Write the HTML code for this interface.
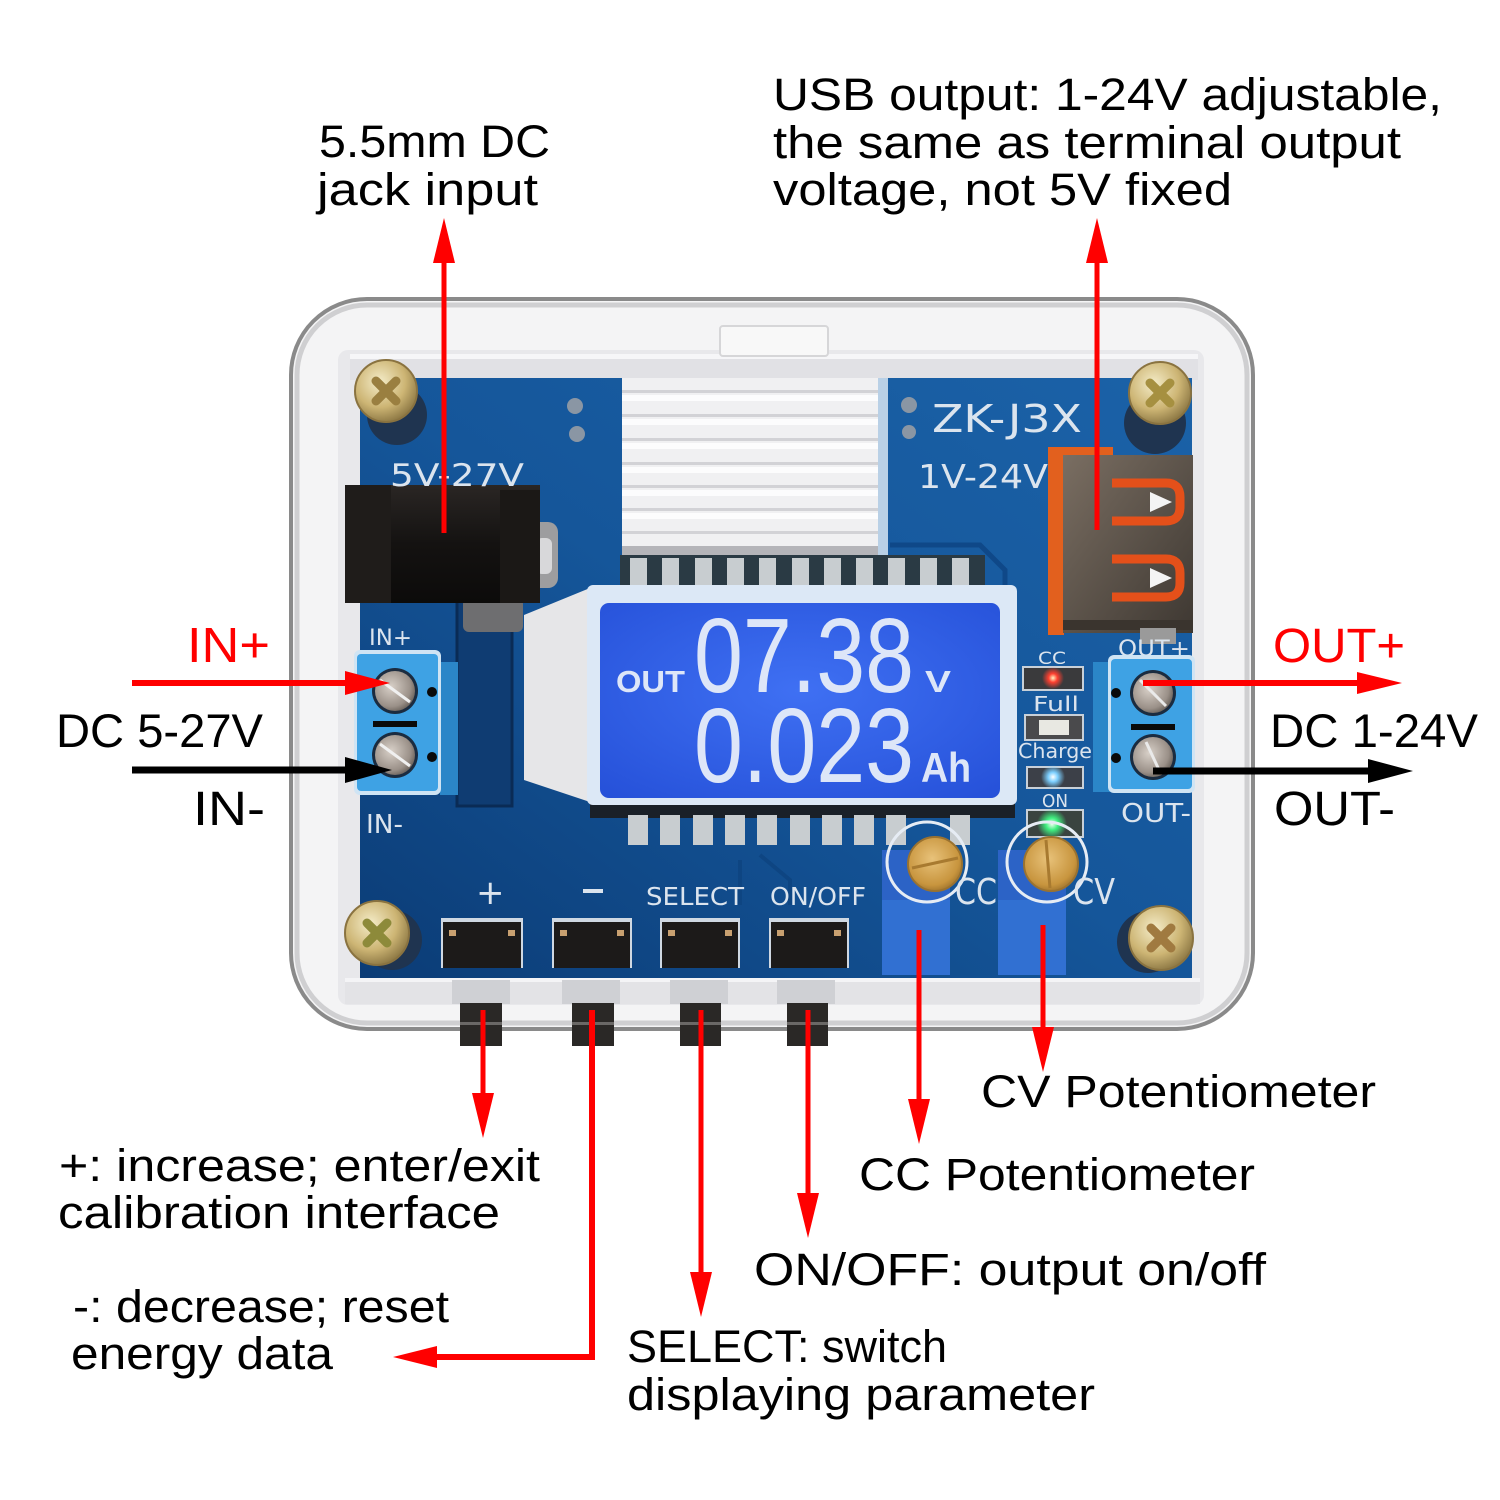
<!DOCTYPE html>
<html><head><meta charset="utf-8"><style>
html,body{margin:0;padding:0;background:#fff;}
svg{display:block;}
text{font-family:"Liberation Sans",sans-serif;}
.silk{font-family:"DejaVu Sans","Liberation Sans",sans-serif;fill:#dbe4ee;}
.ann{font-size:45px;fill:#000;}
</style></head><body>
<svg width="1500" height="1500" viewBox="0 0 1500 1500" xmlns="http://www.w3.org/2000/svg">
<defs>
 <linearGradient id="pcb" x1="1" y1="0" x2="0" y2="1">
  <stop offset="0" stop-color="#1b62a8"/>
  <stop offset="0.5" stop-color="#15569a"/>
  <stop offset="1" stop-color="#0b3c76"/>
 </linearGradient>
 <radialGradient id="lcd" cx="0.5" cy="0.45" r="0.75">
  <stop offset="0" stop-color="#3f70f3"/>
  <stop offset="1" stop-color="#2550d8"/>
 </radialGradient>
 <radialGradient id="brass" cx="0.4" cy="0.35" r="0.75">
  <stop offset="0" stop-color="#f4ecc8"/>
  <stop offset="0.55" stop-color="#cdb574"/>
  <stop offset="1" stop-color="#7a6636"/>
 </radialGradient>
 <radialGradient id="gold" cx="0.45" cy="0.4" r="0.7">
  <stop offset="0" stop-color="#e8c27a"/>
  <stop offset="0.7" stop-color="#c8953e"/>
  <stop offset="1" stop-color="#8a6224"/>
 </radialGradient>
 <radialGradient id="scr" cx="0.4" cy="0.4" r="0.7">
  <stop offset="0" stop-color="#d8d0c8"/>
  <stop offset="0.7" stop-color="#9a9088"/>
  <stop offset="1" stop-color="#5a524c"/>
 </radialGradient>
 <linearGradient id="jack" x1="0" y1="0" x2="0" y2="1">
  <stop offset="0" stop-color="#2a2624"/>
  <stop offset="0.5" stop-color="#141211"/>
  <stop offset="1" stop-color="#0c0b0a"/>
 </linearGradient>
 <linearGradient id="usb" x1="0" y1="0" x2="1" y2="1">
  <stop offset="0" stop-color="#7a6e62"/>
  <stop offset="0.5" stop-color="#5c534a"/>
  <stop offset="1" stop-color="#3e3832"/>
 </linearGradient>
 <radialGradient id="glowR"><stop offset="0" stop-color="#fff4c0"/><stop offset="0.4" stop-color="#ff4030"/><stop offset="1" stop-color="#ff4030" stop-opacity="0"/></radialGradient>
 <radialGradient id="glowB"><stop offset="0" stop-color="#ffffff"/><stop offset="0.4" stop-color="#7ccfff"/><stop offset="1" stop-color="#7ccfff" stop-opacity="0"/></radialGradient>
 <radialGradient id="glowG"><stop offset="0" stop-color="#f0fff0"/><stop offset="0.4" stop-color="#40f080"/><stop offset="1" stop-color="#40f080" stop-opacity="0"/></radialGradient>
</defs>

<!-- ===== CASE ===== -->
<rect x="291" y="299" width="962" height="730" rx="76" fill="#f4f4f5" stroke="#8a8a8a" stroke-width="4"/>
<rect x="297" y="305" width="950" height="718" rx="70" fill="none" stroke="#cfcfd1" stroke-width="5"/>
<rect x="338" y="350" width="866" height="655" rx="10" fill="#e8e8eb"/>
<rect x="350" y="354" width="848" height="26" fill="#e1e1e5"/>
<rect x="350" y="354" width="848" height="5" fill="#f6f6f8"/>
<rect x="720" y="326" width="108" height="30" rx="3" fill="#f8f8f8" stroke="#d6d6d8" stroke-width="2"/>

<!-- ===== PCB ===== -->
<rect x="360" y="378" width="832" height="600" fill="url(#pcb)"/>
<rect x="457" y="600" width="55" height="206" fill="#0f3c72" stroke="#0a2b55" stroke-width="3"/>
<path d="M890 545 L980 545 L1005 570 L1005 600" fill="none" stroke="#0f4888" stroke-width="5"/>
<path d="M740 860 L740 905 M760 855 L790 880 L790 905" fill="none" stroke="#0e4582" stroke-width="4"/>

<!-- heatsink -->
<rect x="622" y="378" width="258" height="178" fill="#f0f0f2"/>
<g fill="#d2d2d6">
 <rect x="622" y="390" width="258" height="3"/><rect x="622" y="414" width="258" height="3"/>
 <rect x="622" y="438" width="258" height="3"/><rect x="622" y="462" width="258" height="3"/>
 <rect x="622" y="485" width="258" height="3"/><rect x="622" y="508" width="258" height="3"/>
 <rect x="622" y="531" width="258" height="3"/>
</g>
<g fill="#fcfcfd">
 <rect x="622" y="395" width="258" height="6"/><rect x="622" y="419" width="258" height="6"/>
 <rect x="622" y="443" width="258" height="6"/><rect x="622" y="467" width="258" height="6"/>
 <rect x="622" y="490" width="258" height="6"/><rect x="622" y="513" width="258" height="6"/>
</g>
<rect x="622" y="546" width="258" height="10" fill="#b4b4b9"/>
<rect x="878" y="378" width="10" height="178" fill="#b9d0e6"/>

<!-- silkscreen top -->
<text class="silk" x="932" y="432" font-size="38" textLength="150" lengthAdjust="spacingAndGlyphs">ZK-J3X</text>
<text class="silk" x="918" y="488" font-size="33" textLength="130" lengthAdjust="spacingAndGlyphs">1V-24V</text>
<circle cx="575" cy="406" r="8" fill="#8a96a4"/><circle cx="577" cy="434" r="8" fill="#8a96a4"/>
<circle cx="909" cy="405" r="8" fill="#8a96a4"/><circle cx="909" cy="432" r="7" fill="#8a96a4"/>

<!-- DC jack -->
<rect x="528" y="522" width="30" height="66" rx="10" fill="#9d9d9f"/>
<rect x="536" y="538" width="16" height="36" rx="6" fill="#d8d8da"/>
<rect x="463" y="598" width="60" height="34" rx="6" fill="#6e6e70"/>
<rect x="345" y="485" width="195" height="118" fill="url(#jack)"/>
<rect x="345" y="485" width="46" height="118" fill="#1f1c1a"/>
<rect x="500" y="490" width="40" height="113" fill="#1b1816"/>
<text class="silk" x="390" y="486" font-size="31" textLength="134" lengthAdjust="spacingAndGlyphs">5V-27V</text>

<!-- screws -->
<g>
 <circle cx="397" cy="415" r="30" fill="#1f3450"/>
 <circle cx="386" cy="391" r="31" fill="url(#brass)" stroke="#8a7340" stroke-width="2"/>
 <path d="M376 381 L396 401 M396 381 L376 401" stroke="#9a7f40" stroke-width="9" stroke-linecap="round"/>
</g>
<g>
 <circle cx="1155" cy="423" r="31" fill="#1f3450"/>
 <circle cx="1160" cy="393" r="31" fill="url(#brass)" stroke="#8a7340" stroke-width="2"/>
 <path d="M1150 383 L1170 403 M1170 383 L1150 403" stroke="#a69040" stroke-width="9" stroke-linecap="round"/>
</g>
<g>
 <circle cx="392" cy="940" r="30" fill="#1f3450"/>
 <circle cx="377" cy="933" r="32" fill="url(#brass)" stroke="#8a7340" stroke-width="2"/>
 <path d="M367 923 L387 943 M387 923 L367 943" stroke="#8d8a3a" stroke-width="9" stroke-linecap="round"/>
</g>
<g>
 <circle cx="1148" cy="942" r="31" fill="#1f3450"/>
 <circle cx="1161" cy="938" r="32" fill="url(#brass)" stroke="#8a7340" stroke-width="2"/>
 <path d="M1151 928 L1171 948 M1171 928 L1151 948" stroke="#a07a40" stroke-width="9" stroke-linecap="round"/>
</g>

<!-- USB port -->
<rect x="1048" y="447" width="16" height="188" fill="#e2601e"/>
<rect x="1063" y="447" width="50" height="9" fill="#e2601e"/>
<rect x="1063" y="455" width="130" height="178" fill="url(#usb)"/>
<rect x="1063" y="620" width="130" height="10" fill="#3a342e"/>
<rect x="1140" y="628" width="36" height="16" fill="#9a9a9a"/>
<path d="M1112 483 L1166 483 Q1180 483 1180 497 L1180 507 Q1180 521 1166 521 L1112 521" fill="none" stroke="#e4501a" stroke-width="9"/>
<path d="M1112 559 L1166 559 Q1180 559 1180 573 L1180 583 Q1180 597 1166 597 L1112 597" fill="none" stroke="#e4501a" stroke-width="9"/>
<path d="M1150 492 L1172 502 L1150 512 Z" fill="#f4f4f4"/>
<path d="M1150 568 L1172 578 L1150 588 Z" fill="#f4f4f4"/>

<!-- LCD pins top -->
<rect x="620" y="555" width="365" height="35" fill="#2a3a44"/>
<g fill="#c8cdd0">
 <rect x="630" y="558" width="17" height="30"/><rect x="662" y="558" width="17" height="30"/>
 <rect x="695" y="558" width="17" height="30"/><rect x="727" y="558" width="17" height="30"/>
 <rect x="759" y="558" width="17" height="30"/><rect x="792" y="558" width="17" height="30"/>
 <rect x="824" y="558" width="17" height="30"/><rect x="856" y="558" width="17" height="30"/>
 <rect x="888" y="558" width="17" height="30"/><rect x="920" y="558" width="17" height="30"/>
 <rect x="952" y="558" width="17" height="30"/>
</g>

<!-- LCD -->
<rect x="590" y="798" width="425" height="20" fill="#1a2028"/>
<polygon points="524,615 590,588 590,802 524,780" fill="#e6e6e8"/>
<rect x="587" y="585" width="430" height="220" rx="6" fill="#dce8f6"/>
<rect x="600" y="603" width="400" height="195" rx="9" fill="url(#lcd)"/>
<g fill="#dde6f8">
 <text x="616" y="692" font-size="31" font-weight="bold" textLength="69" lengthAdjust="spacingAndGlyphs">OUT</text>
 <text x="694" y="692" font-size="106" textLength="220" lengthAdjust="spacingAndGlyphs">07.38</text>
 <text x="925" y="692" font-size="31" font-weight="bold" textLength="26" lengthAdjust="spacingAndGlyphs">V</text>
 <text x="694" y="782" font-size="106" textLength="220" lengthAdjust="spacingAndGlyphs">0.023</text>
 <text x="921" y="782" font-size="42" font-weight="bold" textLength="50" lengthAdjust="spacingAndGlyphs">Ah</text>
</g>

<!-- LCD pins bottom -->
<g fill="#c8cdd0">
 <rect x="628" y="815" width="20" height="30"/><rect x="660" y="815" width="20" height="30"/>
 <rect x="693" y="815" width="20" height="30"/><rect x="725" y="815" width="20" height="30"/>
 <rect x="757" y="815" width="20" height="30"/><rect x="790" y="815" width="20" height="30"/>
 <rect x="822" y="815" width="20" height="30"/><rect x="854" y="815" width="20" height="30"/>
 <rect x="886" y="815" width="20" height="30"/><rect x="950" y="815" width="20" height="30"/>
</g>

<!-- LEDs -->
<text class="silk" x="1038" y="664" font-size="17" textLength="28" lengthAdjust="spacingAndGlyphs">CC</text>
<rect x="1023" y="667" width="60" height="23" fill="#3a3a3c" stroke="#c8d0d8" stroke-width="2"/>
<circle cx="1053" cy="678" r="11" fill="url(#glowR)"/>
<text class="silk" x="1033" y="711" font-size="20" textLength="46" lengthAdjust="spacingAndGlyphs">Full</text>
<rect x="1025" y="715" width="58" height="25" fill="#4a4a4c" stroke="#c8d0d8" stroke-width="2"/>
<rect x="1039" y="720" width="30" height="15" fill="#e8e8e2"/>
<text class="silk" x="1018" y="758" font-size="20" textLength="74" lengthAdjust="spacingAndGlyphs">Charge</text>
<rect x="1027" y="767" width="56" height="21" fill="#3c4048" stroke="#c8d0d8" stroke-width="2"/>
<circle cx="1053" cy="777" r="12" fill="url(#glowB)"/>
<text class="silk" x="1042" y="807" font-size="18" textLength="26" lengthAdjust="spacingAndGlyphs">ON</text>
<rect x="1027" y="810" width="56" height="27" fill="#3a4440" stroke="#c8d0d8" stroke-width="2"/>
<circle cx="1052" cy="824" r="15" fill="url(#glowG)"/>

<!-- PCB labels -->
<text class="silk" x="369" y="645" font-size="22" textLength="43" lengthAdjust="spacingAndGlyphs">IN+</text>
<text class="silk" x="366" y="833" font-size="26" textLength="37" lengthAdjust="spacingAndGlyphs">IN-</text>
<text class="silk" x="1118" y="656" font-size="22" textLength="72" lengthAdjust="spacingAndGlyphs">OUT+</text>
<text class="silk" x="1121" y="822" font-size="26" textLength="70" lengthAdjust="spacingAndGlyphs">OUT-</text>

<!-- left terminal -->
<rect x="440" y="662" width="18" height="133" fill="#2b86c8"/>
<rect x="354" y="650" width="87" height="145" rx="6" fill="#cfe4f4"/>
<rect x="357" y="654" width="81" height="137" rx="4" fill="#3ea2e4"/>
<circle cx="395" cy="691" r="23" fill="#1b2c40"/>
<circle cx="395" cy="691" r="20" fill="url(#scr)"/>
<path d="M380 680 L410 702" stroke="#f0f0f0" stroke-width="3"/>
<circle cx="395" cy="755" r="23" fill="#1b2c40"/>
<circle cx="395" cy="755" r="20" fill="url(#scr)"/>
<path d="M380 744 L410 766" stroke="#f0f0f0" stroke-width="3"/>
<rect x="373" y="721" width="44" height="6" fill="#0a0a0a"/>
<circle cx="432" cy="692" r="5" fill="#0a0a0a"/><circle cx="432" cy="757" r="5" fill="#0a0a0a"/>

<!-- right terminal -->
<rect x="1093" y="662" width="20" height="130" fill="#2b86c8"/>
<rect x="1108" y="655" width="87" height="138" rx="6" fill="#cfe4f4"/>
<rect x="1111" y="659" width="81" height="130" rx="4" fill="#3ea2e4"/>
<circle cx="1153" cy="693" r="23" fill="#1b2c40"/>
<circle cx="1153" cy="693" r="20" fill="url(#scr)"/>
<path d="M1140 680 L1166 706" stroke="#eaeaea" stroke-width="3"/>
<circle cx="1153" cy="757" r="23" fill="#1b2c40"/>
<circle cx="1153" cy="757" r="20" fill="url(#scr)"/>
<path d="M1146 742 L1160 772" stroke="#eaeaea" stroke-width="3"/>
<rect x="1131" y="724" width="44" height="6" fill="#0a0a0a"/>
<circle cx="1116" cy="693" r="5" fill="#0a0a0a"/><circle cx="1116" cy="758" r="5" fill="#0a0a0a"/>

<!-- potentiometers -->
<path d="M882 850 L950 850 L950 975 L882 975 Z" fill="#2c63c6"/>
<rect x="882" y="900" width="68" height="75" fill="#3170d2"/>
<circle cx="927" cy="862" r="40" fill="none" stroke="#e6ecf4" stroke-width="3"/>
<circle cx="935" cy="864" r="27" fill="url(#gold)" stroke="#9a7230" stroke-width="2"/>
<path d="M912 868 L958 858" stroke="#a87a30" stroke-width="3"/>
<path d="M998 850 L1066 850 L1066 975 L998 975 Z" fill="#2c63c6"/>
<rect x="998" y="900" width="68" height="75" fill="#3170d2"/>
<circle cx="1047" cy="862" r="40" fill="none" stroke="#e6ecf4" stroke-width="3"/>
<circle cx="1051" cy="864" r="27" fill="url(#gold)" stroke="#9a7230" stroke-width="2"/>
<path d="M1046 840 L1050 888" stroke="#a87a30" stroke-width="3"/>
<text class="silk" x="955" y="904" font-size="36" textLength="42" lengthAdjust="spacingAndGlyphs">CC</text>
<text class="silk" x="1073" y="904" font-size="36" textLength="42" lengthAdjust="spacingAndGlyphs">CV</text>

<!-- button labels -->
<text class="silk" x="476" y="904" font-size="34">+</text>
<rect x="583" y="889" width="20" height="4" fill="#dbe4ee"/>
<text class="silk" x="646" y="905" font-size="25" textLength="98" lengthAdjust="spacingAndGlyphs">SELECT</text>
<text class="silk" x="770" y="905" font-size="25" textLength="96" lengthAdjust="spacingAndGlyphs">ON/OFF</text>

<!-- buttons -->
<g>
 <rect x="441" y="918" width="82" height="50" fill="#cfd8e2"/><rect x="443" y="922" width="78" height="46" fill="#1c1a19"/>
 <rect x="449" y="930" width="7" height="6" fill="#c8a070"/><rect x="508" y="930" width="7" height="6" fill="#c8a070"/>
 <rect x="552" y="918" width="80" height="50" fill="#cfd8e2"/><rect x="554" y="922" width="76" height="46" fill="#1c1a19"/>
 <rect x="560" y="930" width="7" height="6" fill="#c8a070"/><rect x="617" y="930" width="7" height="6" fill="#c8a070"/>
 <rect x="660" y="918" width="80" height="50" fill="#cfd8e2"/><rect x="662" y="922" width="76" height="46" fill="#1c1a19"/>
 <rect x="668" y="930" width="7" height="6" fill="#c8a070"/><rect x="725" y="930" width="7" height="6" fill="#c8a070"/>
 <rect x="769" y="918" width="80" height="50" fill="#cfd8e2"/><rect x="771" y="922" width="76" height="46" fill="#1c1a19"/>
 <rect x="777" y="930" width="7" height="6" fill="#c8a070"/><rect x="834" y="930" width="7" height="6" fill="#c8a070"/>
</g>

<!-- front lip -->
<rect x="345" y="978" width="855" height="26" fill="#e3e3e6"/>
<rect x="345" y="978" width="855" height="4" fill="#f4f4f6"/>
<g fill="#cfd0d4">
 <rect x="452" y="980" width="58" height="24"/><rect x="562" y="980" width="58" height="24"/>
 <rect x="670" y="980" width="58" height="24"/><rect x="777" y="980" width="58" height="24"/>
</g>
<!-- plungers -->
<g fill="#2a2826">
 <rect x="460" y="1003" width="42" height="43"/><rect x="572" y="1003" width="42" height="43"/>
 <rect x="680" y="1003" width="41" height="43"/><rect x="787" y="1003" width="41" height="43"/>
</g>
<g fill="#6a6866">
 <rect x="460" y="1022" width="42" height="3"/><rect x="572" y="1022" width="42" height="3"/>
 <rect x="680" y="1022" width="41" height="3"/><rect x="787" y="1022" width="41" height="3"/>
</g>

<!-- ===== ARROWS ===== -->
<g stroke="#ff0000" stroke-width="5" fill="none">
 <line x1="444" y1="533" x2="444" y2="258"/>
 <line x1="1097" y1="530" x2="1097" y2="258"/>
 <line x1="132" y1="683" x2="350" y2="683" stroke-width="6"/>
 <line x1="1143" y1="683" x2="1360" y2="683" stroke-width="6"/>
 <line x1="483" y1="1010" x2="483" y2="1096"/>
 <path d="M592 1010 V1357 H435" stroke-width="6"/>
 <line x1="701" y1="1010" x2="701" y2="1275"/>
 <line x1="808" y1="1010" x2="808" y2="1196"/>
 <line x1="919" y1="930" x2="919" y2="1102"/>
 <line x1="1043" y1="925" x2="1043" y2="1030"/>
</g>
<g fill="#ff0000">
 <polygon points="433,263 455,263 444,218"/>
 <polygon points="1086,263 1108,263 1097,218"/>
 <polygon points="345,671 345,695 390,683"/>
 <polygon points="1357,672 1357,694 1402,683"/>
 <polygon points="472,1093 494,1093 483,1138"/>
 <polygon points="437,1346 437,1368 393,1357"/>
 <polygon points="690,1272 712,1272 701,1317"/>
 <polygon points="797,1193 819,1193 808,1238"/>
 <polygon points="908,1099 930,1099 919,1144"/>
 <polygon points="1032,1027 1054,1027 1043,1072"/>
</g>
<g stroke="#000" stroke-width="7">
 <line x1="132" y1="770" x2="350" y2="770"/>
 <line x1="1153" y1="771" x2="1372" y2="771"/>
</g>
<g fill="#000">
 <polygon points="345,757 345,783 392,770"/>
 <polygon points="1368,759 1368,783 1413,771"/>
</g>

<!-- ===== LABELS ===== -->
<text class="ann" x="319" y="157" textLength="231" lengthAdjust="spacingAndGlyphs">5.5mm DC</text>
<text class="ann" x="317" y="205" textLength="221" lengthAdjust="spacingAndGlyphs">jack input</text>
<text class="ann" x="773" y="110" textLength="669" lengthAdjust="spacingAndGlyphs">USB output: 1-24V adjustable,</text>
<text class="ann" x="773" y="158" textLength="628" lengthAdjust="spacingAndGlyphs">the same as terminal output</text>
<text class="ann" x="773" y="205" textLength="459" lengthAdjust="spacingAndGlyphs">voltage, not 5V fixed</text>

<text x="187" y="662" font-size="49" fill="#ff0000" textLength="83" lengthAdjust="spacingAndGlyphs">IN+</text>
<text x="56" y="747" font-size="47" fill="#000" textLength="207" lengthAdjust="spacingAndGlyphs">DC 5-27V</text>
<text x="193" y="825" font-size="48" fill="#000" textLength="72" lengthAdjust="spacingAndGlyphs">IN-</text>
<text x="1273" y="662" font-size="48" fill="#ff0000" textLength="132" lengthAdjust="spacingAndGlyphs">OUT+</text>
<text x="1270" y="747" font-size="47" fill="#000" textLength="208" lengthAdjust="spacingAndGlyphs">DC 1-24V</text>
<text x="1274" y="825" font-size="48" fill="#000" textLength="121" lengthAdjust="spacingAndGlyphs">OUT-</text>

<text class="ann" x="59" y="1181" textLength="481" lengthAdjust="spacingAndGlyphs">+: increase; enter/exit</text>
<text class="ann" x="58" y="1228" textLength="442" lengthAdjust="spacingAndGlyphs">calibration interface</text>
<text class="ann" x="73" y="1322" textLength="376" lengthAdjust="spacingAndGlyphs">-: decrease; reset</text>
<text class="ann" x="71" y="1369" textLength="262" lengthAdjust="spacingAndGlyphs">energy data</text>
<text class="ann" x="981" y="1107" textLength="395" lengthAdjust="spacingAndGlyphs">CV Potentiometer</text>
<text class="ann" x="859" y="1190" textLength="396" lengthAdjust="spacingAndGlyphs">CC Potentiometer</text>
<text class="ann" x="754" y="1285" textLength="512" lengthAdjust="spacingAndGlyphs">ON/OFF: output on/off</text>
<text class="ann" x="627" y="1362" textLength="320" lengthAdjust="spacingAndGlyphs">SELECT: switch</text>
<text class="ann" x="627" y="1410" textLength="468" lengthAdjust="spacingAndGlyphs">displaying parameter</text>
</svg>
</body></html>
